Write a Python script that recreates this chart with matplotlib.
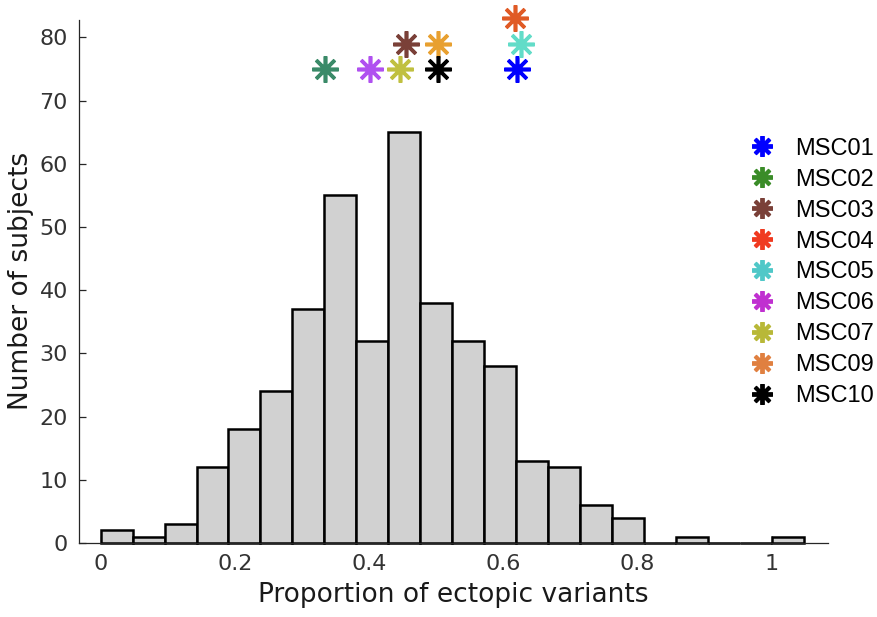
import numpy as np
import matplotlib
matplotlib.use("Agg")
import matplotlib.pyplot as plt
from matplotlib.lines import Line2D

# histogram of proportions (22 bins, width 1/21)
bin_edges = np.arange(23) / 21.0
counts = [2, 1, 3, 12, 18, 24, 37, 55, 32, 65, 38, 32, 28, 13, 12, 6, 4, 0, 1, 0, 0, 1]

# individual MSC subjects shown as asterisks above the histogram
subjects = ["MSC01", "MSC02", "MSC03", "MSC04", "MSC05", "MSC06", "MSC07", "MSC09", "MSC10"]
subj_x = [0.620, 0.335, 0.455, 0.618, 0.626, 0.401, 0.446, 0.502, 0.502]
subj_y = [75, 75, 79, 83, 79, 75, 75, 79, 75]
star_colors = ["#0000ff", "#3a8a68", "#7a4038", "#e05a25", "#62dcc8",
               "#b050f0", "#c0c040", "#e8a030", "#000000"]
legend_colors = ["#0000ff", "#3a8c28", "#7a4038", "#f03a20", "#50c8c8",
                 "#c030d0", "#b8b838", "#e08040", "#000000"]

asterisk = (8, 2, 0)
axis_gray = "#262626"

fig = plt.figure(figsize=(8.77, 6.17), dpi=100)
ax = fig.add_axes([0.090, 0.120, 0.854, 0.848])

bars = ax.bar(bin_edges[:-1], counts, width=np.diff(bin_edges), align="edge",
              color="#d1d1d1", edgecolor="black", linewidth=1.8, zorder=2)
for b in bars:
    b.set_clip_on(False)

for x, y, c in zip(subj_x, subj_y, star_colors):
    ax.plot(x, y, marker=asterisk, markersize=19, markeredgewidth=2.6,
            color=c, linestyle="none", clip_on=False, zorder=3)

ax.set_xlim(-0.0323, 1.0834)
ax.set_ylim(0, 82.8)
ax.set_xticks([0, 0.2, 0.4, 0.6, 0.8, 1])
ax.set_xticklabels(["0", "0.2", "0.4", "0.6", "0.8", "1"])
ax.set_yticks(np.arange(0, 81, 10))

ax.spines["top"].set_visible(False)
ax.spines["right"].set_visible(False)
for s in ("left", "bottom"):
    ax.spines[s].set_color(axis_gray)
    ax.spines[s].set_linewidth(0.9)
ax.tick_params(direction="in", length=5, width=0.9, color=axis_gray,
               labelcolor="#333333", labelsize=16, pad=8)

ax.set_xlabel("Proportion of ectopic variants", fontsize=19, color="#1a1a1a", labelpad=6)
ax.set_ylabel("Number of subjects", fontsize=19, color="#1a1a1a", labelpad=4)

handles = [Line2D([], [], marker=asterisk, markersize=15, markeredgewidth=2.8,
                  color=c, linestyle="none") for c in legend_colors]
fig.legend(handles, subjects, loc="upper left", bbox_to_anchor=(0.853, 0.777),
           frameon=False, handlelength=1.2, handletextpad=0.8, labelspacing=0.38,
           borderaxespad=0, borderpad=0,
           prop={"family": "Liberation Sans", "size": 17})

fig.savefig("out.png", dpi=100)
